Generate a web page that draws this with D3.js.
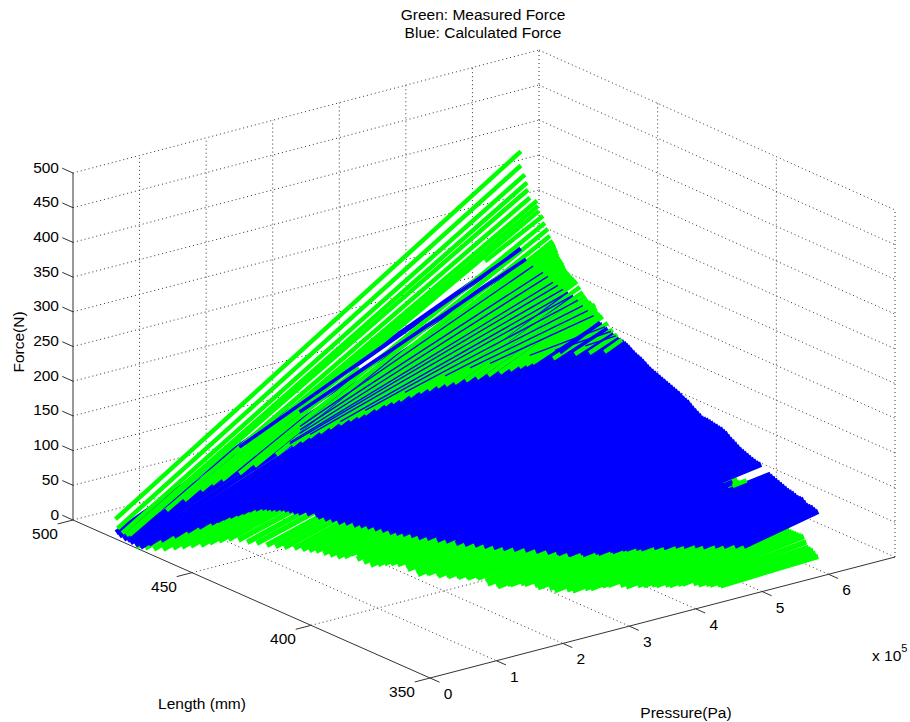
<!DOCTYPE html>
<html>
<head>
<meta charset="utf-8">
<script src="https://cdn.jsdelivr.net/npm/d3@7"></script>
<style>
  body { margin: 0; background: #fff; }
  text { font-family: "Liberation Sans", Arial, sans-serif; font-size: 15.5px; fill: #000; }
  .grid { stroke: #333; stroke-width: 1; stroke-dasharray: 1 3; fill: none; }
  .axis, .tick { stroke: #333; stroke-width: 1; fill: none; }
</style>
</head>
<body>
<svg id="chart" width="910" height="722"></svg>
<script>
const lengthTicks = [500, 450, 400, 350];
const pressureTicks = [0, 1, 2, 3, 4, 5, 6];
const forceTicks = [0, 50, 100, 150, 200, 250, 300, 350, 400, 450, 500];

// every sweep stops at about this pressure (x 10^5 Pa)
const sweepEnd = 6.2;

// measured force, the part lying under the calculated sheet
const baseLength = [474, 472, 470, 468, 466, 464, 462, 460, 458, 456, 454, 452, 450, 448, 446, 444, 442, 440,
  439, 438, 437, 436, 435, 434, 433, 432, 431, 430, 429, 428, 427, 426, 425, 424, 423, 422, 421, 420,
  419, 418, 417, 416, 415, 414, 413, 412, 411, 410, 409, 408, 407, 406, 405, 404, 403, 402, 401, 400,
  399, 398, 397, 396, 395, 394, 393, 392, 391, 390, 389, 388, 387, 386, 385, 384, 383, 382, 381, 380,
  379, 378, 377, 376, 375, 374, 373, 372, 371, 370, 369, 368, 367, 366, 365, 364, 363, 362, 361, 360];
const basePressureStart = [0.02, 0.08, 0.14, 0.21, 0.29, 0.35, 0.41, 0.49, 0.55, 0.62, 0.69, 0.77, 0.83, 0.9, 0.98, 1.04, 1.1, 1.18,
  1.25, 1.23, 1.3, 1.26, 1.33, 1.29, 1.37, 1.33, 1.4, 1.36, 1.44, 1.4, 1.47, 1.43, 1.5, 1.46, 1.52, 1.48, 1.55, 1.51,
  1.58, 1.54, 1.62, 1.58, 1.65, 1.61, 1.67, 1.63, 1.7, 1.66, 1.75, 1.74, 1.83, 1.82, 1.91, 1.9, 1.99, 1.98, 2.07, 2.06,
  2.15, 2.14, 2.22, 2.21, 2.3, 2.29, 2.38, 2.37, 2.46, 2.45, 2.56, 2.57, 2.69, 2.71, 2.83, 2.84, 2.98, 3.02, 3.17, 3.22,
  3.37, 3.42, 3.56, 3.61, 3.76, 3.81, 3.95, 4.0, 4.09, 4.12, 4.22, 4.25, 4.34, 4.37, 4.5, 4.54, 4.62, 4.64, 4.72, 4.73];
const baseForceStart = [0, 0, 0, 1, 4, 7, 10, 12, 17, 21, 25, 25, 23, 23, 21, 21, 21, 21,
  21, 21, 22, 22, 23, 23, 23, 22, 22, 21.5, 22, 21, 23, 24, 28, 30, 28, 25, 25, 23,
  23, 21, 23, 24, 26, 28, 30, 30, 31, 31, 28, 25, 22, 19, 20, 21, 20, 19, 19, 19,
  19, 19, 19, 19, 20, 20, 16, 13, 11, 10, 12, 13, 13, 13, 10, 8, 5, 2, 1, 0,
  1, 1, 3, 4, 2, 0, 0, 0, 0, 0, 0, 0, 1, 2, 1, 0, 0, 0, 0, 0];
const baseForceEnd = [204, 198, 197, 196, 194.5, 193, 189, 186, 182, 178, 175, 171, 170, 165, 163, 160, 159, 157,
  155, 153, 151, 149, 147, 145, 143, 141, 138.7, 136.5, 134.2, 132, 130.7, 129.5, 127.2, 125, 123.8, 122.6, 120.5, 118.4,
  117, 115.7, 112.8, 110, 108.5, 107, 103.5, 100, 97.2, 94.5, 92.2, 90, 89.5, 89, 87.5, 86, 84.8, 83.6, 82.3, 81,
  79.5, 78, 74.5, 71, 68, 65, 62.5, 60, 58.5, 57, 55, 53, 51, 49, 47.5, 46, 44.5, 43, 40, 37,
  36, 35, 33.5, 32, 30, 28, 26.5, 25, 25, 25, 25, 25, 25, 25.5, 19, 12.7, 12, 11.4, 8.6, 5.8];

// calculated force
const calcLength = [485.2, 483.1, 480.1, 478, 475.9, 473.8, 471.7, 469.6, 467.5, 465.4, 463.3, 461.2, 459.1, 458, 457, 455.7, 454.5, 453.2, 451.9, 450.85, 449.8, 448.5, 447.3, 446.2, 445.2, 444, 442.7, 441.6, 440.6, 439.8,
  439, 438, 437, 436, 435, 434, 433, 432, 431, 430, 429, 428, 427, 426, 425, 424, 423, 422, 421, 420,
  419, 418, 417, 416, 415, 414, 413, 412, 411, 410, 409, 408, 407, 406, 405, 404, 403, 402, 401, 400,
  399, 398, 397, 396, 395, 394, 393, 392, 391, 390, 389, 388, 387, 386, 385, 384,
  380, 379, 378, 377, 376, 375, 374, 373, 372, 371, 370, 369, 368, 367, 366, 365, 364, 363, 362, 361, 360];
const calcPressureStart = [0.12, 0.09, 0.05, 0.03, 0, 0, 0, 0.05, 0.16, 0.28, 0.4, 0.5, 0.61, 0.66, 0.71, 0.77, 0.83, 0.87, 0.92, 0.98, 1.04, 1.06, 1.08, 1.11, 1.15, 1.17, 1.19, 1.22, 1.26, 1.36,
  1.46, 1.46, 1.55, 1.49, 1.58, 1.52, 1.61, 1.55, 1.65, 1.59, 1.7, 1.64, 1.73, 1.67, 1.76, 1.7, 1.8, 1.74, 1.84, 1.78,
  1.88, 1.82, 1.92, 1.85, 1.95, 1.88, 1.99, 1.93, 2.03, 1.97, 2.08, 2.03, 2.15, 2.11, 2.22, 2.17, 2.29, 2.25, 2.36, 2.31,
  2.43, 2.39, 2.5, 2.46, 2.57, 2.53, 2.65, 2.6, 2.72, 2.69, 2.82, 2.79, 2.91, 2.88, 3.0, 2.98,
  3.16, 3.3, 3.3, 3.45, 3.46, 3.6, 3.6, 3.72, 3.74, 3.85, 3.89, 4.05, 4.16, 4.3, 4.39, 4.52, 4.61, 4.75, 4.85, 4.98, 5.08];
const calcForceStart = [1, 0.3, 1.3, 3, 4, 3.5, 3.7, 10, 16, 22, 29.5, 36, 42, 46, 50, 53, 56.6, 60, 64, 65.5, 67, 68, 68.6, 69, 70, 70, 70, 69, 68.4, 66,
  63, 61.7, 63, 61, 63, 62, 63, 61, 63, 62, 63, 61, 63, 62, 63, 62.5, 64, 62, 64, 62,
  63, 61, 63, 62, 64, 63, 64, 63, 64, 62, 63, 62.5, 63, 61, 62, 61, 60, 59, 60, 59,
  60, 59, 59, 58.5, 59, 58, 59, 58, 58, 57.5, 58, 57, 57, 56, 56, 55,
  53.6, 54, 53, 54, 54, 56, 56, 58, 59, 59, 59, 58, 57, 57, 56, 55, 53, 52, 50.6, 49, 48];
const calcForceEnd = [258, 246.5, 241, 240, 238.6, 236, 230.5, 229.4, 226.8, 225.6, 224.5, 220.5, 216.4, 214.4, 212.4, 210.7, 209, 206, 203, 201.5, 200, 198.5, 197, 195.5, 194, 193, 192, 191, 190, 188.7,
  187.4, 184.9, 182.8, 180.7, 179.4, 178, 175.9, 173.8, 171.7, 169.6, 168.2, 166.9, 165.4, 164, 162.7, 161.4, 160, 158.6, 157.2, 155.9,
  154.5, 153.2, 151, 148.8, 147.4, 146.1, 143.3, 140.5, 138.4, 136.3, 134.2, 132.1, 132.2, 132.3, 131.6, 131, 130.3, 129.7, 129, 128.4,
  127, 125.6, 122.8, 120, 118, 115.9, 113.7, 111.5, 110.2, 108.9, 107.5, 106.2, 104.8, 103.5, 102.8, 102.2,
  93.7, 92.3, 90.9, 89.5, 88.2, 86.8, 85.4, 84, 82.7, 82, 81.4, 80, 78.7, 78.7, 78.8, 76, 73.2, 73.2, 73.3, 72, 70.6];

// the short calculated sweeps that stop early at the notch on the right
const notchLength = [383, 382, 381];
const notchPressureStart = [3.08, 3.07, 3.18];
const notchForceStart = [54, 54.3, 51.7];
const notchPressureEnd = [5.6, 5.7, 5.6];
const notchForceEnd = [91, 91.5, 87.6];

// measured force, the part standing above the calculated sheet
const topLength = [485.2, 485.2, 483.5, 482.6, 482.2, 481.4, 478.4, 478, 477.6, 475.9, 475.9, 475.1, 473.8, 473, 471.7,
  471.3, 470.9, 470.45, 470, 469.6, 469.2, 468.3, 467.5, 467.1, 466.7, 466, 465.4, 464.5, 463.7, 462.6, 461.6,
  460.3, 459.1, 458, 457, 455.5, 454, 453.4, 452.8, 451.7, 450.7, 448.6, 446.5, 444.6, 442.7, 382];
const topPressureStart = [0.11, 0.14, 0.15, 0.18, 0.21, 0.74, 0.9, 1.14, 1.29, 1.38, 5.33, 1.61, 1.79, 2.09, 2.28,
  2.4, 2.51, 2.65, 2.78, 2.92, 3.05, 3.14, 3.22, 3.36, 3.49, 3.58, 3.67, 3.79, 3.91, 4.0, 4.1,
  4.18, 4.27, 4.4, 4.53, 4.65, 4.77, 4.9, 5.02, 5.08, 5.14, 5.38, 5.63, 5.78, 5.94, 5.7];
const topForceStart = [21, 7, 2.5, 0, 0, 24, 39, 48, 53.7, 60, 276, 65, 73, 83, 94,
  97.5, 101, 105, 109, 112, 115, 118.5, 122, 126, 130, 132, 134, 138, 142, 145, 148,
  150.5, 153, 155, 157, 160, 163, 165, 167, 170, 173, 176.5, 180, 180.5, 181, 86.3];
const topPressureEnd = [6.2, 6.2, 6.2, 6.2, 6.2, 6.2, 6.2, 6.2, 6.2, 3.44, 6.2, 6.2, 6.2, 6.2, 6.2,
  6.2, 6.2, 6.2, 6.2, 6.2, 6.2, 6.2, 6.2, 6.2, 6.2, 6.2, 6.2, 6.2, 6.2, 6.2, 6.2,
  6.2, 6.2, 6.2, 6.2, 6.2, 6.2, 6.2, 6.2, 6.2, 6.2, 6.2, 6.2, 6.2, 6.2, 5.91];
const topForceEnd = [397.6, 377.4, 367, 356.8, 347.3, 337, 337.2, 330.5, 324, 170, 319.3, 310.5, 303.7, 295, 289.6,
  287.4, 285.2, 282.2, 279.3, 275.5, 271.8, 268.7, 265.7, 262.7, 259.8, 257.1, 254.5, 252.9, 251.3, 249.3, 247.3,
  241.2, 235.2, 231.7, 228.2, 226.9, 225.6, 221.4, 217.3, 215.3, 213.3, 207, 200.9, 196.5, 192.2, 89];

// the few calculated sweeps that still show through on top of the measured ones
const showLength = [485.2, 483.1, 451.9];
const showPressureStart = [1.97, 2.8, 5.6];
const showForceStart = [78.5, 111.7, 174.5];
const showForceEnd = [258, 246.5, 203];

// calculated sweeps seen only as hairlines in the slits between measured ones
const slitLength = [480.1, 475.9, 473.8, 471.7, 469.6, 467.5, 465.4, 463.3, 461.2, 459.1, 457, 454.5, 449.8, 447.3, 445.2];
const slitPressureStart = [2.7, 2.55, 2.47, 2.25, 2.17, 2.4, 2.78, 3.08, 3.6, 4.13, 4.43, 4.64, 5.07, 5.36, 5.74];
const slitForceStart = [98, 103, 103, 99, 102, 113, 125, 137, 153, 167, 174, 179, 187, 191, 191];
const slitForceEnd = [241, 238.6, 236, 230.5, 229.4, 226.8, 225.6, 224.5, 220.5, 216.4, 212.4, 209, 200, 197, 194];

const svg = d3.select("#chart");

// the axes are plain parallel edges, corners are kept so the slightly uneven back wall can be matched
const lengthScale = d3.scaleLinear().domain([500, 350]).range([0, 1]);
const pressureScale = d3.scaleLinear().domain([0, 7]).range([0, 1]);
const forceScale = d3.scaleLinear().domain([0, 500]).range([0, 1]);

const floorX = [[73, 539], [430, 895]];
const floorY = [[520, 400], [678, 557]];
const rise = [[347, 350], [347, 347]];

function blend(c, u, v) {
  return (c[0][0] * (1 - v) + c[0][1] * v) * (1 - u) + (c[1][0] * (1 - v) + c[1][1] * v) * u;
}

function project(length, pressure, force) {
  const u = lengthScale(length);
  const v = pressureScale(pressure);
  const w = forceScale(force);
  return [blend(floorX, u, v), blend(floorY, u, v) - blend(rise, u, v) * w];
}

function segment(g, className, rows) {
  g.selectAll("." + className)
    .data(rows)
    .join("line")
    .attr("class", className)
    .attr("x1", (d) => project(...d[0])[0])
    .attr("y1", (d) => project(...d[0])[1])
    .attr("x2", (d) => project(...d[1])[0])
    .attr("y2", (d) => project(...d[1])[1]);
}

// grid
const grid = svg.append("g");
const gridRows = [];
forceTicks.forEach((f) => {
  if (f > 0) gridRows.push([[500, 0, f], [500, 7, f]]);
  gridRows.push([[500, 7, f], [350, 7, f]]);
});
pressureTicks.slice(1).forEach((p) => {
  gridRows.push([[500, p, 0], [500, p, 500]]);
  gridRows.push([[500, p, 0], [350, p, 0]]);
});
lengthTicks.slice(1, 3).forEach((l) => {
  gridRows.push([[l, 7, 0], [l, 7, 500]]);
  gridRows.push([[l, 0, 0], [l, 7, 0]]);
});
gridRows.push([[500, 7, 0], [500, 7, 500]]);
gridRows.push([[350, 7, 0], [350, 7, 500]]);
gridRows.push([[500, 0, 0], [500, 7, 0]]);
segment(grid, "grid", gridRows);

// axes and ticks
const axes = svg.append("g");
segment(axes, "axis", [
  [[500, 0, 0], [500, 0, 500]],
  [[500, 0, 0], [350, 0, 0]],
  [[350, 0, 0], [350, 7, 0]],
]);
const tickRows = [];
forceTicks.forEach((f) => tickRows.push([[500, 0, f], [504.5, 0, f]]));
lengthTicks.forEach((l) => tickRows.push([[l, 0, 0], [l, -0.23, 0]]));
pressureTicks.forEach((p) => tickRows.push([[350, p, 0], [346, p, 0]]));
segment(axes, "tick", tickRows);

// force sheets
function drawSheet(name, color, width, lengths, pStart, fStart, pEnd, fEnd) {
  svg.append("g")
    .attr("fill", "none")
    .attr("stroke", color)
    .attr("stroke-width", width)
    .call((g) => segment(g, name, lengths.map((l, i) => [
      [l, pStart[i], fStart[i]],
      [l, pEnd === sweepEnd ? sweepEnd : pEnd[i], fEnd[i]],
    ])));
}

drawSheet("measured-base", "#00ff00", 5.5, baseLength, basePressureStart, baseForceStart, sweepEnd, baseForceEnd);
drawSheet("calculated", "#0000ff", 5.5, calcLength, calcPressureStart, calcForceStart, sweepEnd, calcForceEnd);
drawSheet("calculated-notch", "#0000ff", 5.5, notchLength, notchPressureStart, notchForceStart, notchPressureEnd, notchForceEnd);
drawSheet("measured-top", "#00ff00", 4.5, topLength, topPressureStart, topForceStart, topPressureEnd, topForceEnd);
drawSheet("calculated-slit", "#0000ff", 1.4, slitLength, slitPressureStart, slitForceStart, sweepEnd, slitForceEnd);
drawSheet("calculated-show", "#0000ff", 3.5, showLength, showPressureStart, showForceStart, sweepEnd, showForceEnd);

// tick labels
svg.append("g").selectAll("text")
  .data(forceTicks)
  .join("text")
  .attr("text-anchor", "end")
  .attr("x", 59)
  .attr("y", (d) => project(500, 0, d)[1] - 0.5)
  .text((d) => d);

svg.append("g").selectAll("text")
  .data(lengthTicks)
  .join("text")
  .attr("text-anchor", "middle")
  .attr("x", (d) => project(d, 0, 0)[0] - 28)
  .attr("y", (d) => project(d, 0, 0)[1] + 19)
  .text((d) => d);

svg.append("g").selectAll("text")
  .data(pressureTicks)
  .join("text")
  .attr("text-anchor", "middle")
  .attr("x", (d) => project(350, d, 0)[0] + 18)
  .attr("y", (d) => project(350, d, 0)[1] + 21)
  .text((d) => d);

// titles
svg.append("text").attr("text-anchor", "middle").attr("x", 483).attr("y", 20).text("Green: Measured Force");
svg.append("text").attr("text-anchor", "middle").attr("x", 483).attr("y", 38).text("Blue: Calculated Force");
svg.append("text").attr("text-anchor", "middle").attr("x", 202).attr("y", 709).text("Length (mm)");
svg.append("text").attr("text-anchor", "middle").attr("x", 686).attr("y", 718).text("Pressure(Pa)");
svg.append("text").attr("text-anchor", "middle")
  .attr("transform", "translate(24,342) rotate(-90)")
  .text("Force(N)");

const scaleNote = svg.append("text").attr("x", 872).attr("y", 661).text("x 10");
scaleNote.append("tspan").attr("dy", -9).style("font-size", "11px").text("5");
</script>
</body>
</html>
